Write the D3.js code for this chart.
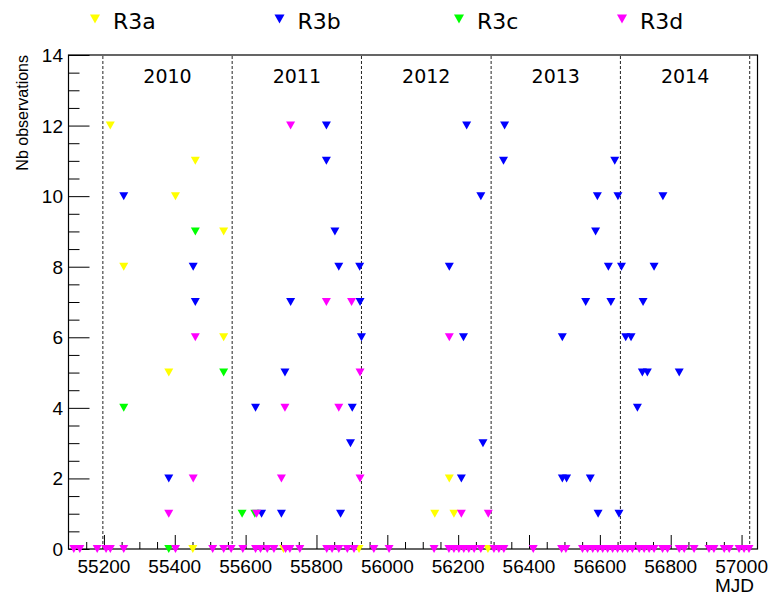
<!DOCTYPE html>
<html>
<head>
<meta charset="utf-8">
<script src="https://cdn.jsdelivr.net/npm/d3@7"></script>
<style>
    body { margin: 0; background: #fff; }
    svg { display: block; }
    .tick-label { font-family: "Liberation Sans", Arial, sans-serif; font-size: 19px; fill: #000; }
    .year-label { font-family: "DejaVu Sans", sans-serif; font-size: 19px; fill: #000; }
    .legend-label { font-family: "DejaVu Sans", sans-serif; font-size: 22px; fill: #000; }
</style>
</head>
<body>
<div id="chart"></div>
<script>
// series: [MJD, number of observations]
const r3a = [
    [55218, 12], [55458, 11], [55402, 10], [55538, 9], [55256, 8], [55538, 6], [55383, 5],
    [56175, 2], [56134, 1], [56188, 1],
    [55451, 0], [55707, 0], [55920, 0], [56284, 0]
];

const r3b = [
    [55256, 10], [55452, 8], [55458, 7], [55727, 7], [55711, 5], [55628, 4], [55383, 2],
    [55645, 1], [55701, 1], [55868, 1],
    [55828, 12], [55828, 11], [55852, 9], [55863, 8], [55922, 8], [55923, 7], [55927, 6],
    [55901, 4], [55896, 3],
    [56224, 12], [56331, 12], [56328, 11], [56264, 10], [56175, 8], [56215, 6], [56270, 3], [56209, 2],
    [56642, 11], [56593, 10], [56651, 10], [56778, 10], [56588, 9], [56624, 8], [56661, 8], [56753, 8],
    [56560, 7], [56631, 7], [56722, 7], [56494, 6], [56673, 6], [56688, 6], [56720, 5], [56734, 5],
    [56824, 5], [56706, 4], [56494, 2], [56506, 2], [56573, 2], [56595, 1], [56654, 1]
];

const r3c = [
    [55458, 9], [55538, 5], [55256, 4], [55590, 1], [55626, 1], [55383, 0]
];

const r3d = [
    [55727, 12], [55458, 6], [55452, 2], [55701, 2], [55711, 4], [55383, 1], [55631, 1],
    [55828, 7], [55899, 7], [56175, 6], [55923, 5], [55863, 4], [55923, 2], [56209, 1], [56285, 1],
    [55115, 0], [55132, 0], [55181, 0], [55206, 0], [55218, 0], [55256, 0], [55402, 0], [55507, 0],
    [55538, 0], [55559, 0], [55592, 0], [55628, 0], [55642, 0], [55661, 0], [55680, 0], [55713, 0],
    [55725, 0], [55753, 0], [55829, 0], [55844, 0], [55863, 0], [55887, 0], [55906, 0], [55962, 0],
    [56005, 0], [56132, 0], [56174, 0], [56188, 0], [56202, 0], [56216, 0], [56230, 0], [56245, 0],
    [56264, 0], [56301, 0], [56315, 0], [56329, 0], [56412, 0], [56492, 0], [56504, 0], [56551, 0],
    [56565, 0], [56580, 0], [56594, 0], [56608, 0], [56622, 0], [56636, 0], [56650, 0], [56664, 0],
    [56678, 0], [56692, 0], [56711, 0], [56725, 0], [56739, 0], [56753, 0], [56777, 0], [56791, 0],
    [56824, 0], [56838, 0], [56866, 0], [56908, 0], [56922, 0], [56951, 0], [56965, 0], [56993, 0],
    [57007, 0], [57021, 0]
];

const seriesNames = ['R3a', 'R3b', 'R3c', 'R3d'];
const seriesColors = ['#ffff00', '#0000ff', '#00ff00', '#ff00ff'];

// year boundaries (MJD of Jan 1st) and labels
const yearStarts = [55197, 55562, 55927, 56293, 56658, 57023];
const yearLabels = ['2010', '2011', '2012', '2013', '2014'];

const xMajorTicks = [55200, 55400, 55600, 55800, 56000, 56200, 56400, 56600, 56800, 57000];
const yMajorTicks = [0, 2, 4, 6, 8, 10, 12, 14];

const W = 770;
const H = 597;
const margin = { top: 55, right: 12.5, bottom: 48, left: 68.5 };
const width = W - margin.left - margin.right;
const height = H - margin.top - margin.bottom;

const svg = d3.select('#chart')
    .append('svg')
    .attr('width', W)
    .attr('height', H);

const x = d3.scaleLinear().domain([55100, 57045]).range([margin.left, margin.left + width]);
const y = d3.scaleLinear().domain([0, 14]).range([margin.top + height, margin.top]);

// year separators
svg.append('g')
    .selectAll('line')
    .data(yearStarts)
    .enter()
    .append('line')
    .attr('x1', d => x(d)).attr('x2', d => x(d))
    .attr('y1', y(0)).attr('y2', y(14))
    .attr('stroke', '#222')
    .attr('stroke-width', 1)
    .attr('stroke-dasharray', '3,2');

svg.append('g')
    .selectAll('text')
    .data(yearLabels)
    .enter()
    .append('text')
    .attr('class', 'year-label')
    .attr('x', (d, i) => (x(yearStarts[i]) + x(yearStarts[i + 1])) / 2)
    .attr('y', 83)
    .attr('text-anchor', 'middle')
    .text(d => d);

// axes, ticks pointing into the frame (ROOT style)
const xAxis = d3.axisTop(x)
    .tickValues(d3.range(55150, 57045, 50))
    .tickSize(7)
    .tickFormat('')
    .tickSizeOuter(0);

const xAxisG = svg.append('g')
    .attr('transform', `translate(0, ${y(0)})`)
    .call(xAxis);
xAxisG.select('.domain').remove();
xAxisG.selectAll('.tick line')
    .attr('y2', d => xMajorTicks.includes(d) ? -14 : -7);

svg.append('g')
    .selectAll('text')
    .data(xMajorTicks)
    .enter()
    .append('text')
    .attr('class', 'tick-label')
    .attr('x', d => x(d))
    .attr('y', y(0) + 24)
    .attr('text-anchor', 'middle')
    .text(d => d);

const yAxis = d3.axisRight(y)
    .tickValues(d3.range(0, 14.01, 0.5))
    .tickFormat('')
    .tickSize(11)
    .tickSizeOuter(0);

const yAxisG = svg.append('g')
    .attr('transform', `translate(${margin.left}, 0)`)
    .call(yAxis);
yAxisG.select('.domain').remove();
yAxisG.selectAll('.tick line')
    .attr('x2', d => yMajorTicks.includes(d) ? 21 : 11);

svg.append('g')
    .selectAll('text')
    .data(yMajorTicks)
    .enter()
    .append('text')
    .attr('class', 'tick-label')
    .attr('x', 63)
    .attr('y', d => y(d) + 7)
    .attr('text-anchor', 'end')
    .text(d => d);

// frame
svg.append('rect')
    .attr('x', margin.left)
    .attr('y', margin.top)
    .attr('width', width)
    .attr('height', height)
    .attr('fill', 'none')
    .attr('stroke', '#000')
    .attr('stroke-width', 1.2);

// axis titles
svg.append('text')
    .attr('class', 'tick-label')
    .attr('transform', `translate(28, ${margin.top}) rotate(-90)`)
    .attr('text-anchor', 'end')
    .style('font-size', '16px')
    .text('Nb observations');

svg.append('text')
    .attr('class', 'tick-label')
    .attr('x', 754)
    .attr('y', 592)
    .attr('text-anchor', 'end')
    .text('MJD');

// markers: downward triangles
const tri = 'M-4.5,-4L4.5,-4L0,4Z';
const allSeries = [r3a, r3b, r3c, r3d];

allSeries.forEach((s, i) => {
    svg.append('g')
        .selectAll('path')
        .data(s)
        .enter()
        .append('path')
        .attr('d', tri)
        .attr('transform', d => `translate(${x(d[0])}, ${y(d[1])})`)
        .attr('fill', seriesColors[i]);
});

// legend
const legendMarkerX = [95, 279.5, 459, 622];
const legend = svg.append('g');
legend.selectAll('path')
    .data(seriesNames)
    .enter()
    .append('path')
    .attr('d', 'M-5,-4.5L5,-4.5L0,4.5Z')
    .attr('transform', (d, i) => `translate(${legendMarkerX[i]}, 19)`)
    .attr('fill', (d, i) => seriesColors[i]);

legend.selectAll('text')
    .data(seriesNames)
    .enter()
    .append('text')
    .attr('class', 'legend-label')
    .attr('x', (d, i) => legendMarkerX[i] + 18)
    .attr('y', 29)
    .text(d => d);
</script>
</body>
</html>
